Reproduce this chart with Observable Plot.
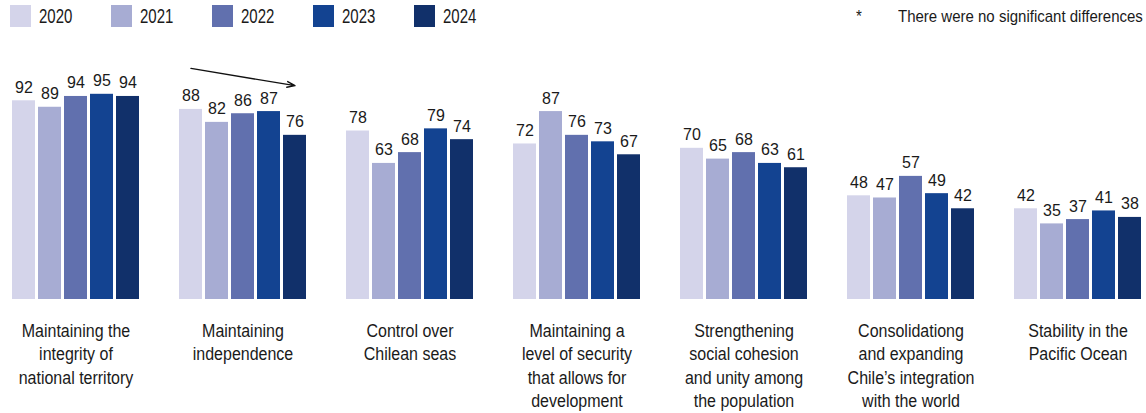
<!DOCTYPE html>
<html><head><meta charset="utf-8">
<script src="https://cdn.jsdelivr.net/npm/d3@7"></script>
<script src="https://cdn.jsdelivr.net/npm/@observablehq/plot@0.6"></script>
<style>
body{margin:0;background:#fff;color:#1a1a1a;font-family:"Liberation Sans",Arial,sans-serif;}
#legend{position:relative;height:35px;width:1146px;}
.item{position:absolute;top:0;height:35px;}
.sw{position:absolute;top:5px;left:0;width:21px;height:22px;}
.lt{position:absolute;left:29px;top:10px;font-size:15px;line-height:15px;white-space:nowrap;transform:scaleY(1.33);transform-origin:0 12.7px;}
.note{position:absolute;font-size:15px;line-height:15px;top:9px;white-space:nowrap;transform:scaleY(1.06);transform-origin:0 12.7px;}
</style></head>
<body>
<div id="legend"></div>
<div id="chart"></div>
<script>
const categories = [
  "Maintaining the integrity of national territory",
  "Maintaining independence",
  "Control over Chilean seas",
  "Maintaining a level of security that allows for development",
  "Strengthening social cohesion and unity among the population",
  "Consolidationg and expanding Chile’s integration with the world",
  "Stability in the Pacific Ocean"
];
const categoryLabels = [
  "Maintaining the\nintegrity of\nnational territory",
  "Maintaining\nindependence",
  "Control over\nChilean seas",
  "Maintaining a\nlevel of security\nthat allows for\ndevelopment",
  "Strengthening\nsocial cohesion\nand unity among\nthe population",
  "Consolidationg\nand expanding\nChile’s integration\nwith the world",
  "Stability in the\nPacific Ocean"
];
const years = ["2020", "2021", "2022", "2023", "2024"];
const colors = ["#d4d4ea", "#a7acd3", "#6170ae", "#134391", "#11306a"];
const v2020 = [92, 88, 78, 72, 70, 48, 42];
const v2021 = [89, 82, 63, 87, 65, 47, 35];
const v2022 = [94, 86, 68, 76, 68, 57, 37];
const v2023 = [95, 87, 79, 73, 63, 49, 41];
const v2024 = [94, 76, 74, 67, 61, 42, 38];
const noteText = "There were no significant differences";
// trend arrow annotation (data units)
const trendArrow = [{cat: "Maintaining independence", from: "2020", to: "2024", yFrom: 107, yTo: 99}];

const series = [v2020, v2021, v2022, v2023, v2024];
const data = [];
categories.forEach((c, ci) => years.forEach((y, yi) => data.push({cat: c, year: y, value: series[yi][ci]})));
const labelMap = new Map(categories.map((c, i) => [c, categoryLabels[i]]));

// legend
const legend = document.getElementById("legend");
years.forEach((y, i) => {
  const it = document.createElement("div");
  it.className = "item";
  it.style.left = (10 + i * 101) + "px";
  it.innerHTML = `<div class="sw" style="background:${colors[i]}"></div><div class="lt">${y}</div>`;
  legend.appendChild(it);
});
const star = document.createElement("div");
star.className = "note"; star.style.left = "856px"; star.textContent = "*";
legend.appendChild(star);
const note = document.createElement("div");
note.className = "note"; note.style.left = "898px"; note.textContent = noteText;
legend.appendChild(note);

const chart = Plot.plot({
  width: 1146,
  height: 378,
  marginTop: 48,
  marginBottom: 114,
  marginLeft: 10,
  marginRight: 3,
  style: {fontFamily: '"Liberation Sans",Arial,sans-serif', color: "#1a1a1a", background: "#fff"},
  fx: {domain: categories, paddingInner: 0.2156, paddingOuter: 0, label: null},
  x: {domain: years, paddingInner: 0.111, paddingOuter: 0, axis: null},
  y: {domain: [0, 100], axis: null},
  color: {domain: years, range: colors},
  marks: [
    Plot.barY(data, {fx: "cat", x: "year", y: "value", fill: "year"}),
    Plot.text(data, {fx: "cat", x: "year", y: "value", text: d => String(d.value), lineAnchor: "bottom", dy: -8, fontSize: 16, fill: "#1a1a1a", ariaLabel: "values"}),
    Plot.axisFx({anchor: "bottom", tickSize: 0, tickPadding: 21, tickFormat: d => labelMap.get(d), fontSize: 16, lineHeight: 1.245, label: null}),
    Plot.arrow(trendArrow, {fx: "cat", x1: "from", x2: "to", y1: "yFrom", y2: "yTo", stroke: "#111", strokeWidth: 1.4, headLength: 9, headAngle: 40})
  ]
});

// vertically stretch the text like the reference's condensed type
function stretch(sel, k) {
  chart.querySelectorAll(sel).forEach(t => {
    let tr = t.getAttribute("transform");
    if (!tr) {
      const x = parseFloat(t.getAttribute("x")) || 0;
      const yAttr = t.getAttribute("y");
      let y = 0;
      if (yAttr && !/em$/.test(yAttr)) { y = parseFloat(yAttr) || 0; t.removeAttribute("y"); }
      t.removeAttribute("x");
      tr = `translate(${x},${y})`;
    }
    t.setAttribute("transform", tr + ` scale(1,${k})`);
  });
}
stretch('g[aria-label="values"] text', 1.22);
stretch('g[aria-label="fx-axis tick label"] text', 1.17);
document.getElementById("chart").appendChild(chart);
</script>
</body></html>
